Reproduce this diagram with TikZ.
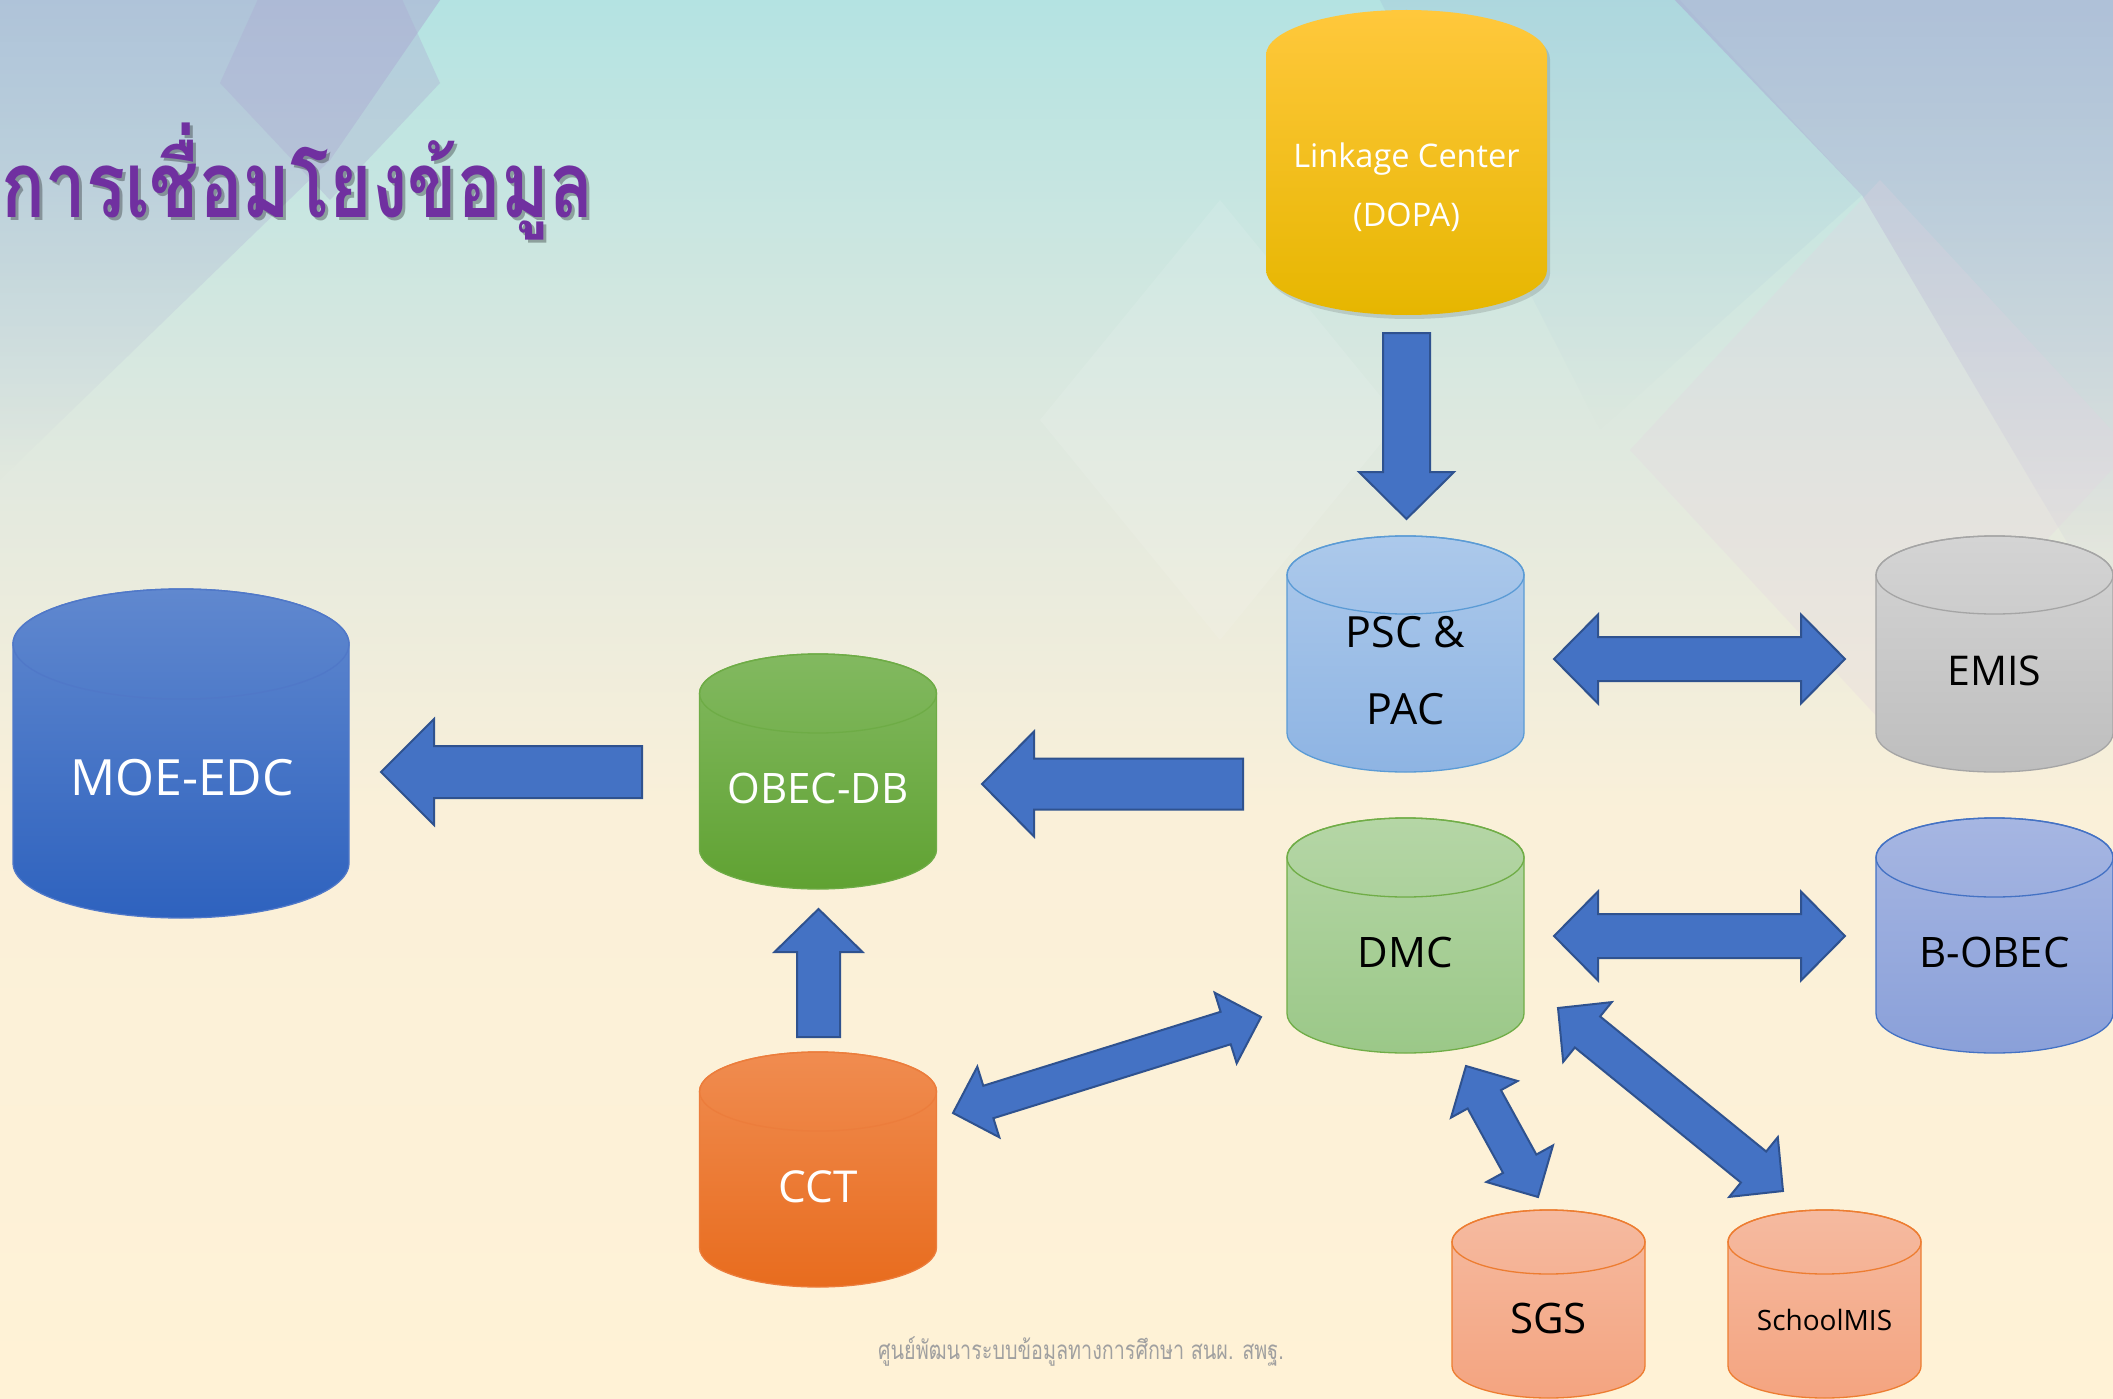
\documentclass[tikz,border=0pt]{standalone}
\usepackage{fontspec}
\setmainfont{Open Sans}
\newfontfamily\thaifont[Script=Thai]{Loma}
\usetikzlibrary{calc,fadings}
\definecolor{arrowfill}{RGB}{68,114,196}
\definecolor{arrowline}{RGB}{47,82,143}
\definecolor{titlepurple}{RGB}{112,48,160}
\definecolor{footgray}{RGB}{160,160,160}
\definecolor{bgA}{RGB}{255,242,214}
\definecolor{bgB}{RGB}{250,240,217}
\definecolor{bgC}{RGB}{226,233,223}
\definecolor{bgD}{RGB}{180,227,226}
\definecolor{lav}{RGB}{172,170,210}
\definecolor{blueish}{RGB}{160,190,215}
\definecolor{pinkish}{RGB}{228,210,225}
% TikZ maps the path onto the range 25bp..75bp of a declared shading
\pgfdeclareverticalshading{bgshade}{100bp}{color(0bp)=(bgA); color(25bp)=(bgA); color(46bp)=(bgB); color(58bp)=(bgC); color(75bp)=(bgD); color(100bp)=(bgD)}
% cylinder colours
\definecolor{linkT}{RGB}{255,200,60}\definecolor{linkB}{RGB}{230,182,0}
\definecolor{pscT}{RGB}{172,201,235}\definecolor{pscB}{RGB}{142,180,227}\definecolor{pscL}{RGB}{91,155,213}
\definecolor{emisT}{RGB}{212,212,212}\definecolor{emisB}{RGB}{190,190,190}\definecolor{emisL}{RGB}{165,165,165}
\definecolor{dmcT}{RGB}{181,214,166}\definecolor{dmcB}{RGB}{155,200,136}\definecolor{dmcL}{RGB}{112,173,71}
\definecolor{bobT}{RGB}{166,182,226}\definecolor{bobB}{RGB}{138,160,217}\definecolor{bobL}{RGB}{68,114,196}
\definecolor{moeT}{RGB}{96,136,207}\definecolor{moeB}{RGB}{46,98,190}\definecolor{moeL}{RGB}{80,120,200}
\definecolor{obT}{RGB}{130,185,96}\definecolor{obB}{RGB}{96,162,50}\definecolor{obL}{RGB}{110,172,70}
\definecolor{cctT}{RGB}{240,140,80}\definecolor{cctB}{RGB}{232,108,30}\definecolor{cctL}{RGB}{236,125,60}
\definecolor{sgsT}{RGB}{245,186,160}\definecolor{sgsB}{RGB}{244,164,128}\definecolor{sgsL}{RGB}{237,125,49}
\tikzset{
  blockarrow/.style={fill=arrowfill, draw=arrowline, line width=2pt, line join=miter},
  lbl/.style={anchor=base, inner sep=0pt},
}
% #1 cx, #2 top, #3 bottom, #4 rx, #5 ry, #6 top colour, #7 bottom colour, #8 line colour
\newcommand{\dbcyl}[8]{%
  \path[top color=#6, bottom color=#7]
    (#1-#4,#2+#5) -- (#1-#4,#3-#5)
    arc[start angle=180, end angle=0, x radius=#4, y radius=#5]
    -- (#1+#4,#2+#5)
    arc[start angle=0, end angle=-180, x radius=#4, y radius=#5] -- cycle;
  \draw[#8, line width=1.3pt]
    (#1-#4,#2+#5) -- (#1-#4,#3-#5)
    arc[start angle=180, end angle=0, x radius=#4, y radius=#5]
    -- (#1+#4,#2+#5)
    arc[start angle=0, end angle=-180, x radius=#4, y radius=#5] -- cycle;
  \draw[#8, line width=1.3pt] (#1,#2+#5) ellipse[x radius=#4, y radius=#5];
}
% single block arrow: #1 tail, #2 tip, #3 half shaft, #4 half head, #5 head length
\newcommand{\blockarrow}[5]{%
  \path ($(#2)!#5pt!(#1)$) coordinate (hb);
  \filldraw[blockarrow] ($(#1)!#3pt!90:(#2)$) -- ($(hb)!#3pt!90:(#2)$) -- ($(hb)!#4pt!90:(#2)$)
    -- (#2) -- ($(hb)!#4pt!-90:(#2)$) -- ($(hb)!#3pt!-90:(#2)$) -- ($(#1)!#3pt!-90:(#2)$) -- cycle;
}
% double block arrow: #1 end, #2 end, #3 half shaft, #4 half head, #5 head length
\newcommand{\dblarrow}[5]{%
  \path ($(#1)!#5pt!(#2)$) coordinate (ha) ($(#2)!#5pt!(#1)$) coordinate (hb);
  \filldraw[blockarrow] (#1) -- ($(ha)!#4pt!90:(#2)$) -- ($(ha)!#3pt!90:(#2)$)
    -- ($(hb)!#3pt!-90:(#1)$) -- ($(hb)!#4pt!-90:(#1)$) -- (#2)
    -- ($(hb)!#4pt!90:(#1)$) -- ($(hb)!#3pt!90:(#1)$)
    -- ($(ha)!#3pt!-90:(#2)$) -- ($(ha)!#4pt!-90:(#2)$) -- cycle;
}
\begin{document}
\begin{tikzpicture}[x=1pt,y=-1pt]
\useasboundingbox (0,0) rectangle (2113,1399);
% background
\shade[shading=bgshade] (0,0) rectangle (2113,1399);
\begin{scope}
\clip (0,0) rectangle (2113,1399);
\fill[lav, opacity=0.55, path fading=south] (0,0) -- (440,0) -- (330,160) -- (0,480) -- cycle;
\fill[lav, opacity=0.35] (330,-160) -- (440,83) -- (330,200) -- (220,83) -- cycle;
\fill[blueish, opacity=0.30, path fading=south] (1380,0) -- (1680,0) -- (1862,195) -- (1600,430) -- cycle;
\fill[lav, opacity=0.60, path fading=south] (1675,0) -- (2113,0) -- (2113,620) -- (1862,195) -- cycle;
\fill[pinkish, opacity=0.25] (1880,180) -- (2130,450) -- (1880,720) -- (1630,450) -- cycle;
\fill[white, opacity=0.10] (1220,200) -- (1400,420) -- (1220,640) -- (1040,420) -- cycle;
\end{scope}
% title
\node[anchor=base west, inner sep=0pt, text=black, opacity=0.3] at (4,221)
  {\scalebox{0.79}[1]{\thaifont\bfseries\fontsize{92}{92}\selectfont การเชื่อมโยงข้อมูล}};
\node[anchor=base west, inner sep=0pt, text=titlepurple] (title) at (1,218)
  {\scalebox{0.79}[1]{\thaifont\bfseries\fontsize{92}{92}\selectfont การเชื่อมโยงข้อมูล}};
% Linkage centre (shadow + body)
\fill[black, opacity=0.12] (1406.5-140.5+3,10+45+4) -- (1406.5-140.5+3,315-45+4)
    arc[start angle=180, end angle=0, x radius=140.5, y radius=45] -- (1406.5+140.5+3,10+45+4)
    arc[start angle=0, end angle=-180, x radius=140.5, y radius=45] -- cycle;
\path[top color=linkT, bottom color=linkB] (1406.5-140.5,10+45) -- (1406.5-140.5,315-45)
    arc[start angle=180, end angle=0, x radius=140.5, y radius=45] -- (1406.5+140.5,10+45)
    arc[start angle=0, end angle=-180, x radius=140.5, y radius=45] -- cycle;
\node[lbl, text=white, font=\fontsize{32.5}{32.5}\selectfont] (link) at (1406.5,168) {Linkage Center};
\node[lbl, text=white, font=\fontsize{32.5}{32.5}\selectfont] (dopa) at (1406.5,226.5) {(DOPA)};
% cylinders
\dbcyl{1405.5}{536}{772}{118.5}{39}{pscT}{pscB}{pscL}
\node[lbl, font=\fontsize{43}{43}\selectfont] (psc) at (1405.5,647) {PSC \&};
\node[lbl, font=\fontsize{43}{43}\selectfont] (pac) at (1405.5,724) {PAC};
\dbcyl{1994.5}{536}{772}{118.5}{39}{emisT}{emisB}{emisL}
\node[lbl, font=\fontsize{41}{41}\selectfont] (emis) at (1994.5,685) {EMIS};
\dbcyl{1405.5}{818}{1053}{118.5}{39.5}{dmcT}{dmcB}{dmcL}
\node[lbl, font=\fontsize{42}{42}\selectfont] (dmc) at (1405.5,967) {DMC};
\dbcyl{1994.5}{818}{1053}{118.5}{39.5}{bobT}{bobB}{bobL}
\node[lbl, font=\fontsize{42}{42}\selectfont] (bobec) at (1994.5,967) {B-OBEC};
\dbcyl{181}{589}{918}{168}{55}{moeT}{moeB}{moeL}
\node[lbl, text=white, font=\fontsize{50}{50}\selectfont] (moe) at (182,795) {MOE-EDC};
\dbcyl{818}{654}{889}{118.5}{39.5}{obT}{obB}{obL}
\node[lbl, text=white, font=\fontsize{42}{42}\selectfont] (obec) at (818,803) {OBEC-DB};
\dbcyl{818}{1052}{1287}{118.5}{39.5}{cctT}{cctB}{cctL}
\node[lbl, text=white, font=\fontsize{44}{44}\selectfont] (cct) at (818,1202) {CCT};
\dbcyl{1548.5}{1210}{1398}{96.5}{32}{sgsT}{sgsB}{sgsL}
\node[lbl, font=\fontsize{42}{42}\selectfont] (sgs) at (1548.5,1333) {SGS};
\dbcyl{1824.5}{1210}{1398}{96.5}{32}{sgsT}{sgsB}{sgsL}
\node[lbl, font=\fontsize{28}{28}\selectfont] (smis) at (1824.5,1330) {SchoolMIS};
% arrow end points
\coordinate (linkOut) at (1406.5,333);  \coordinate (pscIn) at (1406.5,519);
\coordinate (obecOut) at (642,772);     \coordinate (moeIn) at (381,772);
\coordinate (pscOut) at (1243,784);     \coordinate (obecIn) at (982,784);
\coordinate (cctOut) at (818.5,1037);   \coordinate (obecInB) at (818.5,909);
\coordinate (pscR) at (1554,659);       \coordinate (emisL) at (1845,659);
\coordinate (dmcR) at (1554,936);       \coordinate (bobL) at (1845,936);
\coordinate (cctR) at (953,1113);       \coordinate (dmcL) at (1261,1017);
\coordinate (dmcB1) at (1466,1066);     \coordinate (sgsT) at (1538,1197);
\coordinate (dmcB2) at (1558,1008);     \coordinate (smisT) at (1783,1191);
% arrows
\blockarrow{linkOut}{pscIn}{23.5}{47.5}{47}
\blockarrow{obecOut}{moeIn}{26}{53}{53}
\blockarrow{pscOut}{obecIn}{25.5}{52.5}{52}
\blockarrow{cctOut}{obecInB}{21.5}{44}{43}
\dblarrow{pscR}{emisL}{22}{44.5}{44}
\dblarrow{dmcR}{bobL}{22}{44.5}{44}
\dblarrow{cctR}{dmcL}{17}{37}{37}
\dblarrow{dmcB1}{sgsT}{19}{38}{38}
\dblarrow{dmcB2}{smisT}{20}{38.5}{38}
% footer
\node[lbl, text=footgray] (footer) at (1081,1359)
  {\scalebox{0.76}[1]{\thaifont\fontsize{26}{26}\selectfont ศูนย์พัฒนาระบบข้อมูลทางการศึกษา สนผ. สพฐ.}};
\end{tikzpicture}
\end{document}
